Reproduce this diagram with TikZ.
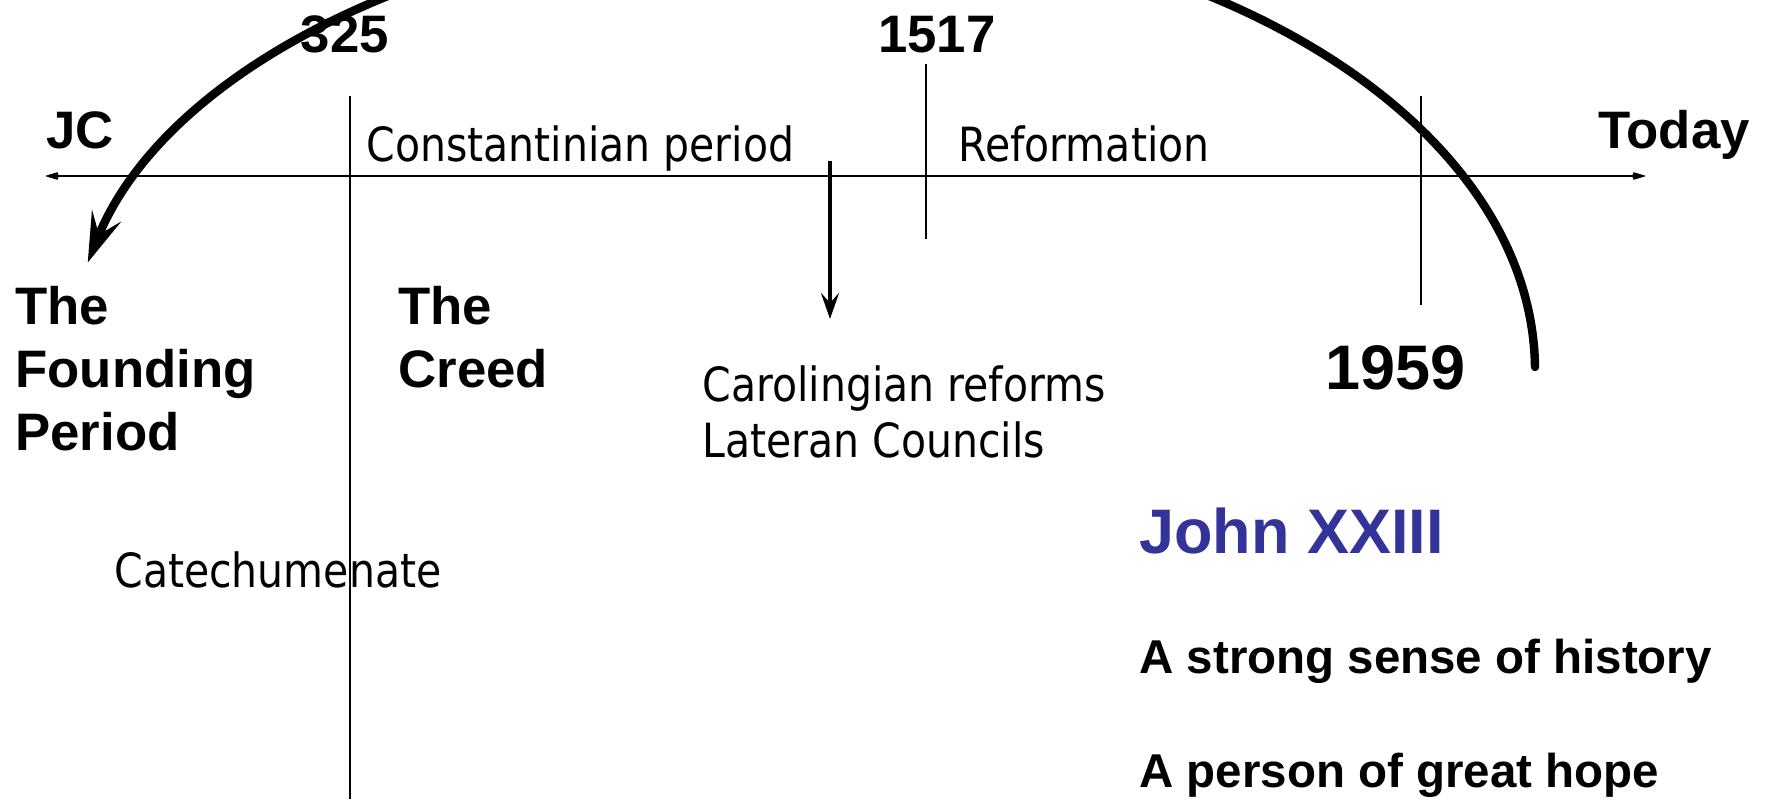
\documentclass[tikz,border=0pt]{standalone}
\usepackage{fontspec}
\setmainfont{Liberation Sans}
\newfontfamily\tahoma[FakeStretch=0.87]{DejaVu Sans}
\usetikzlibrary{arrows.meta}
\definecolor{popeblue}{RGB}{51,51,153}

\begin{document}
\begin{tikzpicture}[x=0.01cm,y=0.01cm,line width=0.8pt,
  every node/.style={inner sep=0pt,anchor=base west}]
  \tikzstyle{era}=[font=\bfseries\fontsize{15}{17.9}\selectfont,align=left]
  \tikzstyle{date}=[font=\bfseries\fontsize{15}{18}\selectfont,anchor=base]
  \tikzstyle{note}=[font=\tahoma\fontsize{13.4}{15.9}\selectfont,align=left]
  \tikzstyle{fact}=[font=\bfseries\fontsize{13.5}{16}\selectfont]

  \useasboundingbox (0,0) rectangle (1770,799);
  \clip (0,0) rectangle (1770,799);

  % time line
  \coordinate (past)  at (45,623);
  \coordinate (now)   at (1646,623);
  \draw[{Stealth[length=0.26cm,width=0.16cm,inset=0.15cm]}-{Stealth[length=0.26cm,width=0.16cm,inset=0.15cm]}]
    (past) -- (now);

  % ticks
  \coordinate (t325)  at (350,703);
  \coordinate (t1517) at (926,735);
  \coordinate (t1959) at (1421,703);
  \draw (t325) -- (t325 |- 0,0);
  \draw (t1517) -- +(0,-175);
  \draw (t1959) -- +(0,-209);

  \node[era]  (jc)     at (45,651)   {JC};
  \node[era]  (today)  at (1597,651) {Today};
  \node[date] (y325)   at (345,747)  {325};
  \node[date] (y1517)  at (937,747)  {1517};
  \node[date,font=\bfseries\fontsize{17.9}{20}\selectfont] (y1959) at (1395,410) {1959};

  \node[note] (const)  at (365,638)  {Constantinian period};
  \node[note] (reform) at (957,638)  {Reformation};
  % last line sits on the given point
  \node[era]  (found)  at (14,349)   {The\\Founding\\Period};
  \node[era]  (creed)  at (397,412)  {The\\Creed};
  \node[note] (carol)  at (701,342)  {Carolingian reforms\\Lateran Councils};
  \node[note] (catech) at (113,212)  {Catechumenate};

  \node[fact,font=\bfseries\fontsize{17.9}{20}\selectfont,text=popeblue] (john) at (1138,246) {John XXIII};
  \node[fact] (sense) at (1138,126) {A strong sense of history};
  \node[fact] (hope)  at (1138,12)  {A person of great hope};

  % arrows
  \coordinate (drop) at (830,638);
  \draw[line width=1.3pt,-{Stealth[length=0.26cm,width=0.18cm,inset=0.1cm]}] (drop) -- +(0,-158);
  \coordinate (back) at (1535,432);
  \draw[line width=2.4pt,line cap=round,-{Stealth[length=0.5cm,width=0.31cm,inset=0.2cm]}]
    (back) arc[start angle=0.5,end angle=166.1,x radius=7.34cm,y radius=4.51cm];
\end{tikzpicture}
\end{document}
